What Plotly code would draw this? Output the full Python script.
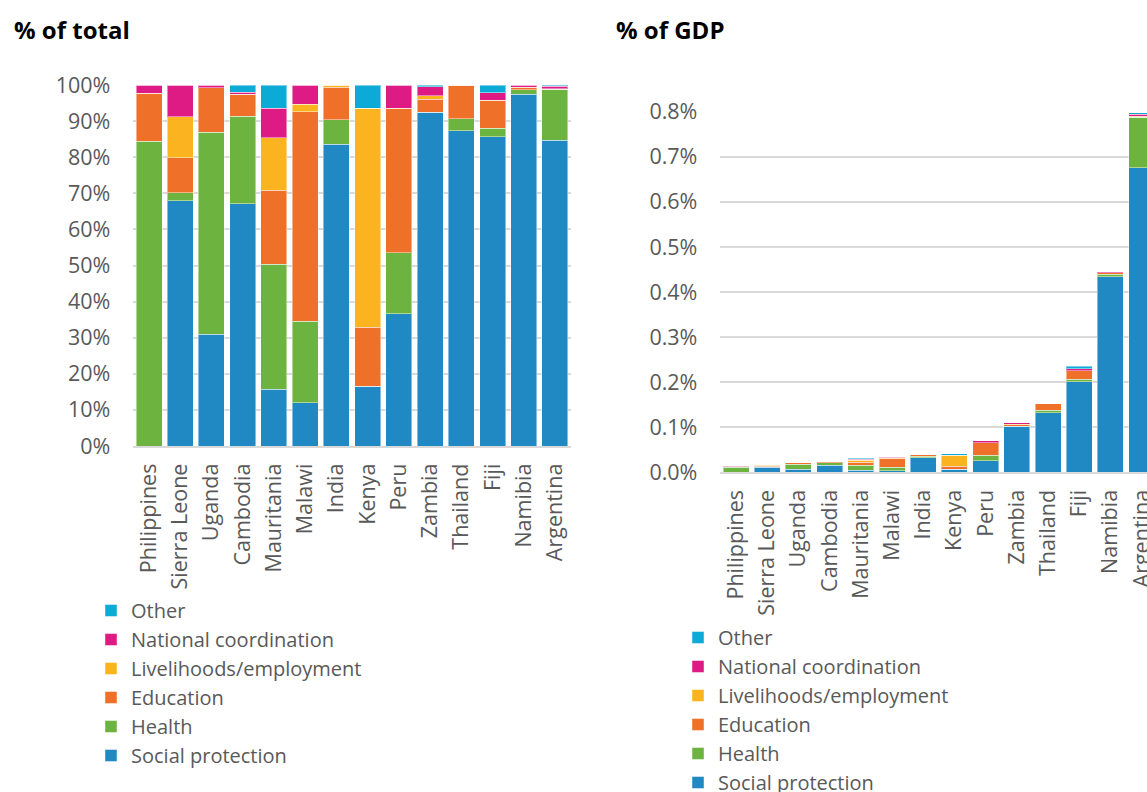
import plotly.graph_objects as go

countries = ["Philippines", "Sierra Leone", "Uganda", "Cambodia", "Mauritania", "Malawi",
             "India", "Kenya", "Peru", "Zambia", "Thailand", "Fiji", "Namibia", "Argentina"]

series_names = ["Social protection", "Health", "Education", "Livelihoods/employment",
                "National coordination", "Other"]
colors = ["#2089C3", "#6DB33F", "#EE7029", "#FBB420", "#DE1A84", "#0CAAD7"]

# % of total (shares)
share_social = [0.0, 68.0, 31.0, 67.1, 15.7, 12.0, 83.6, 16.6, 36.6, 92.5, 87.3, 85.6, 97.5, 84.7]
share_health = [84.4, 2.2, 55.9, 24.2, 34.7, 22.5, 6.8, 0.0, 17.0, 0.0, 3.3, 2.4, 1.2, 14.1]
share_education = [13.3, 9.7, 12.4, 6.1, 20.4, 58.1, 9.0, 16.3, 40.0, 3.5, 9.4, 7.8, 0.7, 0.0]
share_livelihoods = [0.0, 11.3, 0.0, 0.0, 14.6, 2.0, 0.6, 60.7, 0.0, 1.0, 0.0, 0.0, 0.0, 0.2]
share_coordination = [2.3, 8.8, 0.7, 0.6, 8.1, 5.4, 0.0, 0.0, 6.4, 2.5, 0.0, 2.0, 0.6, 0.6]
share_other = [0.0, 0.0, 0.0, 2.0, 6.5, 0.0, 0.0, 6.4, 0.0, 0.5, 0.0, 2.2, 0.0, 0.4]

# % of GDP
gdp_social = [0.0, 0.0114, 0.0065, 0.0158, 0.0049, 0.0040, 0.0326, 0.0068, 0.0256, 0.1018, 0.1327, 0.2012, 0.4339, 0.6759]
gdp_health = [0.0110, 0.0004, 0.0117, 0.0057, 0.0108, 0.0074, 0.0027, 0.0, 0.0119, 0.0, 0.0050, 0.0056, 0.0053, 0.1125]
gdp_education = [0.0017, 0.0016, 0.0026, 0.0014, 0.0063, 0.0192, 0.0035, 0.0067, 0.0280, 0.0039, 0.0143, 0.0183, 0.0031, 0.0]
gdp_livelihoods = [0.0, 0.0019, 0.0, 0.0, 0.0045, 0.0007, 0.0002, 0.0249, 0.0, 0.0011, 0.0, 0.0, 0.0, 0.0016]
gdp_coordination = [0.0003, 0.0015, 0.0002, 0.0001, 0.0025, 0.0018, 0.0, 0.0, 0.0045, 0.0027, 0.0, 0.0047, 0.0027, 0.0048]
gdp_other = [0.0, 0.0, 0.0, 0.0005, 0.0020, 0.0, 0.0, 0.0026, 0.0, 0.0005, 0.0, 0.0052, 0.0, 0.0032]

share_series = [share_social, share_health, share_education, share_livelihoods, share_coordination, share_other]
gdp_series = [gdp_social, gdp_health, gdp_education, gdp_livelihoods, gdp_coordination, gdp_other]

W, H = 1147, 792
FONT = "Open Sans"
TXT = "#595959"
FS = 21.5
LFS = 20

fig = go.Figure()
for name, col, vals in zip(series_names, colors, share_series):
    fig.add_trace(go.Bar(x=countries, y=vals, name=name, marker_color=col,
                         marker_line=dict(color="rgba(255,255,255,0.45)", width=1),
                         xaxis="x", yaxis="y", legend="legend"))
for name, col, vals in zip(series_names, colors, gdp_series):
    fig.add_trace(go.Bar(x=countries, y=vals, name=name, marker_color=col,
                         marker_line=dict(color="rgba(255,255,255,0.45)", width=1),
                         xaxis="x2", yaxis="y2", legend="legend2"))

def px_x(p):
    return p / W

def px_y(p):
    return 1 - p / H

axis_common = dict(showgrid=False, zeroline=False, ticks="", tickangle=-90,
                   tickfont=dict(family=FONT, size=FS, color=TXT),
                   showline=True, linecolor="#D9D9D9", linewidth=2,
                   ticklabelstandoff=7, fixedrange=True, automargin=False)
yaxis_common = dict(showgrid=True, gridcolor="#D9D9D9", gridwidth=1.5, zeroline=False,
                    ticks="", tickfont=dict(family=FONT, size=FS, color=TXT),
                    showline=False, ticklabelstandoff=22, fixedrange=True, automargin=False)

fig.update_layout(
    width=W, height=H,
    margin=dict(l=0, r=0, t=0, b=0, pad=0, autoexpand=False),
    paper_bgcolor="white", plot_bgcolor="white",
    barmode="stack", bargap=0.167,
    xaxis=dict(domain=[px_x(133.4), px_x(570.6)], anchor="y", range=[-0.5, 13.5], **axis_common),
    yaxis=dict(domain=[px_y(446), px_y(85)], anchor="x", range=[0, 100], dtick=10,
               ticksuffix="%", tickformat=".0f", **yaxis_common),
    xaxis2=dict(domain=[px_x(720.4), 1.0], anchor="y2", range=[-0.5, 13.17], **axis_common),
    yaxis2=dict(domain=[px_y(472.3), px_y(111.8)], anchor="x2", range=[0, 0.8], dtick=0.1,
                ticksuffix="%", tickformat=".1f", **yaxis_common),
    legend=dict(x=px_x(91), y=px_y(775), xanchor="left", yanchor="bottom",
                traceorder="reversed", font=dict(family=FONT, size=LFS, color=TXT),
                bgcolor="rgba(0,0,0,0)"),
    legend2=dict(x=px_x(678), y=px_y(618), xanchor="left", yanchor="top",
                 traceorder="reversed", font=dict(family=FONT, size=LFS, color=TXT),
                 bgcolor="rgba(0,0,0,0)"),
    showlegend=True,
    annotations=[
        dict(text="<b>% of total</b>", x=px_x(12), y=px_y(29), xref="paper", yref="paper",
             xanchor="left", yanchor="middle", showarrow=False,
             font=dict(family=FONT, size=24, color="#000000")),
        dict(text="<b>% of GDP</b>", x=px_x(614), y=px_y(29), xref="paper", yref="paper",
             xanchor="left", yanchor="middle", showarrow=False,
             font=dict(family=FONT, size=24, color="#000000")),
    ],
)

fig.write_html("out.html", config={"displayModeBar": False},
               post_script="document.body.style.margin='0';document.body.style.overflow='hidden';")
